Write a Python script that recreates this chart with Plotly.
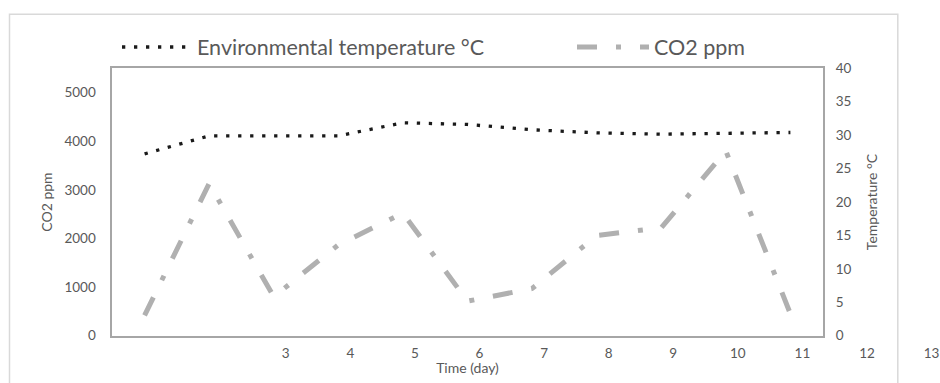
import plotly.graph_objects as go

# ---- data ----
days = [1, 2, 3, 4, 5, 6, 7, 8, 9, 10, 11]
temperature_c = [27.2, 29.9, 29.9, 29.9, 31.85, 31.6, 30.8, 30.35, 30.15, 30.3, 30.4]
co2_ppm = [420, 3130, 800, 1870, 2520, 710, 970, 2060, 2220, 3800, 450]
x_tick_labels = [3, 4, 5, 6, 7, 8, 9, 10, 11, 12, 13]
co2_ticks = [0, 1000, 2000, 3000, 4000, 5000]
temp_ticks = [0, 5, 10, 15, 20, 25, 30, 35, 40]

W, H = 940, 383
FONT = "Lato"
TXT = "#595959"
BOX = "#A6A6A6"

# plot-area geometry (pixels)
PL, PR, PT, PB = 112.3, 822.7, 68.3, 335.7
x_range = [0.5, 11.5]
px_per_day = (PR - PL) / (x_range[1] - x_range[0])
x2_range = [x_range[0], x_range[0] + (W - PL) / px_per_day]

fig = go.Figure()
fig.add_trace(go.Scatter(
    x=days, y=temperature_c, name="Environmental temperature °C",
    mode="lines", yaxis="y2", legend="legend", showlegend=True,
    line=dict(color="#1a1a1a", width=3.3, dash="3.3px,8.7px"),
))
fig.add_trace(go.Scatter(
    x=days, y=co2_ppm, name="CO2 ppm",
    mode="lines", yaxis="y", legend="legend2", showlegend=True,
    line=dict(color="#B0B0B0", width=5, dash="20px,19px,5px,19px"),
))
# carrier for the (wider) day-label axis
fig.add_trace(go.Scatter(
    x=[None], y=[None], xaxis="x2", yaxis="y", mode="lines",
    showlegend=False, hoverinfo="skip",
))

tickfont = dict(family=FONT, size=13.5, color=TXT)
titlefont = dict(family=FONT, size=14, color=TXT)
legfont = dict(family=FONT, size=21.5, color=TXT)
fig.update_layout(
    width=W, height=H,
    margin=dict(l=0, r=0, t=0, b=0, autoexpand=False),
    paper_bgcolor="white", plot_bgcolor="rgba(0,0,0,0)",
    font=dict(family=FONT, color=TXT),
    showlegend=True,
    xaxis=dict(
        domain=[PL / W, PR / W], range=x_range,
        showline=True, mirror=True, linecolor=BOX, linewidth=1.75,
        showgrid=False, zeroline=False, showticklabels=False, ticks="",
        title=dict(text="Time (day)", font=titlefont, standoff=27),
    ),
    xaxis2=dict(
        domain=[PL / W, 1.0], range=x2_range, anchor="y",
        showline=False, showgrid=False, zeroline=False, ticks="",
        tickmode="array", tickvals=x_tick_labels, ticktext=[str(v) for v in x_tick_labels],
        tickfont=tickfont, ticklabelshift=12, ticklabelstandoff=8,
    ),
    yaxis=dict(
        domain=[1 - PB / H, 1 - PT / H], range=[0, 5500],
        tickmode="array", tickvals=co2_ticks,
        showline=True, mirror=True, linecolor=BOX, linewidth=1.75,
        showgrid=False, zeroline=False, ticks="", tickfont=tickfont,
        ticklabelstandoff=12,
        title=dict(text="CO2 ppm", font=titlefont, standoff=8),
    ),
    yaxis2=dict(
        overlaying="y", side="right", anchor="x", range=[0, 40],
        tickmode="array", tickvals=temp_ticks,
        showline=False, showgrid=False, zeroline=False, ticks="", tickfont=tickfont,
        ticklabelstandoff=12,
        title=dict(text="Temperature °C", font=titlefont, standoff=16),
    ),
    legend=dict(
        x=117 / W, y=1 - 47 / H, xanchor="left", yanchor="middle",
        orientation="h", bgcolor="rgba(0,0,0,0)", itemwidth=70,
        font=legfont,
    ),
    legend2=dict(
        x=572 / W, y=1 - 47 / H, xanchor="left", yanchor="middle",
        orientation="h", bgcolor="rgba(0,0,0,0)", itemwidth=72,
        font=legfont,
    ),
    shapes=[dict(
        type="rect", xref="paper", yref="paper",
        x0=9.5 / W, x1=897.8 / W, y0=-0.1, y1=1 - 14.3 / H,
        line=dict(color="#D9D9D9", width=1.5), layer="below",
    )],
)

fig.write_html("out.html")
